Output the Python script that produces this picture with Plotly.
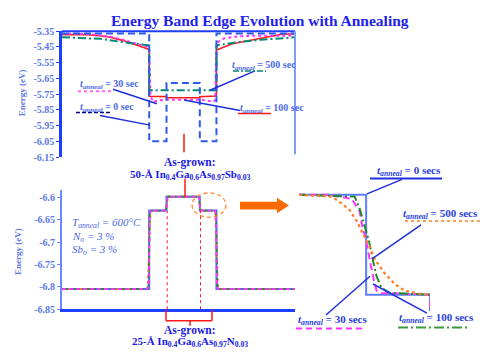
import plotly.graph_objects as go

W, H = 481, 352

# ---------------- data ----------------
# Position across the structure (Å); well edges at 65.5 / 78.5 / 103.5 / 116
TOP_TICKS = [-5.35, -5.45, -5.55, -5.65, -5.75, -5.85, -5.95, -6.05, -6.15]
BOT_TICKS = [-6.6, -6.65, -6.7, -6.75, -6.8, -6.85]

# Upper panel: band edge (eV) for each anneal time
TOP_X_0 = [0, 65.5, 65.5, 78.5, 78.5, 103.5, 103.5, 116, 116, 175]
TOP_E_0 = [-5.365, -5.365, -6.05, -6.05, -5.68, -5.68, -6.05, -6.05, -5.365, -5.365]

TOP_X_30 = [0, 20, 36, 46, 56, 64, 65.5, 66.5, 68.5, 72, 78.5, 103.5, 109, 113, 115, 116, 117, 122, 130, 140, 175]
TOP_E_30 = [-5.366, -5.368, -5.385, -5.405, -5.43, -5.45, -5.47, -5.76, -5.80, -5.79, -5.785, -5.785, -5.79,
            -5.80, -5.79, -5.45, -5.42, -5.395, -5.385, -5.38, -5.378]

TOP_X_100 = [0, 19, 28.5, 36, 46, 56, 64, 65.5, 65.5, 78.5, 78.5, 103.5, 103.5, 115.5, 116, 116, 128, 134, 149, 158, 166, 175]
TOP_E_100 = [-5.372, -5.373, -5.379, -5.389, -5.41, -5.44, -5.461, -5.471, -5.764, -5.766, -5.773, -5.773, -5.766,
             -5.762, -5.75, -5.47, -5.43, -5.42, -5.395, -5.379, -5.368, -5.368]

TOP_X_500 = [0, 29, 46, 64, 65.5, 65.5, 116, 116, 134, 149, 164, 175]
TOP_E_500 = [-5.389, -5.399, -5.42, -5.436, -5.44, -5.725, -5.725, -5.44, -5.418, -5.405, -5.395, -5.389]

# Lower panel, as-grown step profile
BOT_X_0 = [0, 65.5, 65.5, 78.5, 78.5, 103.5, 103.5, 116, 116, 175]
BOT_E_0 = [-6.805, -6.805, -6.629, -6.629, -6.598, -6.598, -6.629, -6.629, -6.805, -6.805]

# Close-up of the outer well edge (x near 116 Å)
EDGE_X_0 = [113.95, 116, 116, 117.95, 117.95]
EDGE_E_0 = [-6.629, -6.629, -6.805, -6.805, -6.834]
EDGE_X_30 = [113.95, 114.85, 115.56, 115.80, 115.89, 115.98, 116.05, 116.14, 116.23, 116.32, 116.47, 117.95, 117.95]
EDGE_E_30 = [-6.629, -6.629, -6.636, -6.658, -6.687, -6.704, -6.726, -6.755, -6.778, -6.798, -6.802, -6.805, -6.834]
EDGE_X_100 = [113.95, 115.65, 115.80, 115.95, 116.08, 116.23, 116.32, 116.47, 116.72, 117.95]
EDGE_E_100 = [-6.629, -6.632, -6.653, -6.682, -6.709, -6.750, -6.773, -6.793, -6.802, -6.805]
EDGE_X_500 = [113.95, 114.95, 115.25, 115.50, 115.71, 115.92, 116.11, 116.26, 116.56, 116.87, 117.18, 117.60, 117.95]
EDGE_E_500 = [-6.629, -6.632, -6.644, -6.656, -6.675, -6.699, -6.721, -6.742, -6.767, -6.786, -6.798, -6.803, -6.805]

# Inner (25 Å) step corners after annealing
INNER_X = [77.9, 78.4, 78.8, 79.4]
INNER_E = [-6.629, -6.622, -6.605, -6.598]

WELL_L, WELL_R = 65.5, 116.0


def annealed_profile(ex, ey):
    """Full lower-panel profile built from the edge close-up (mirrored on the left)."""
    n = len(ex) - 1 if ey[-1] < -6.81 else len(ex)
    ex, ey = ex[:n], ey[:n]
    left_x = [WELL_L + WELL_R - x for x in reversed(ex)]
    left_e = list(reversed(ey))
    inner_rx = [182.0 - x for x in reversed(INNER_X)]
    inner_re = list(reversed(INNER_E))
    xs = [0] + left_x + INNER_X + inner_rx + ex + [175]
    es = [-6.805] + left_e + INNER_E + inner_re + ey + [-6.805]
    return xs, es


# ---------------- figure ----------------
def px(x):
    return x / W


def py(y):
    return 1 - y / H


BLUE = "#2f5bea"
LBLUE = "#5a78e6"
TXT = "#4a6ae8"
SERIF = "Liberation Serif"

fig = go.Figure()

# upper panel
fig.add_trace(go.Scatter(x=TOP_X_100, y=TOP_E_100, mode="lines", line=dict(color="#ff1a1a", width=1.6),
                         xaxis="x", yaxis="y"))
fig.add_trace(go.Scatter(x=TOP_X_30, y=TOP_E_30, mode="lines", line=dict(color="#ff33ff", width=2, dash="dot"),
                         xaxis="x", yaxis="y"))
fig.add_trace(go.Scatter(x=TOP_X_500, y=TOP_E_500, mode="lines",
                         line=dict(color="#008878", width=2, dash="8px,3px,2px,3px"), xaxis="x", yaxis="y"))
fig.add_trace(go.Scatter(x=TOP_X_0, y=TOP_E_0, mode="lines", line=dict(color=BLUE, width=2, dash="7px,4px"),
                         xaxis="x", yaxis="y"))

# lower panel
fig.add_trace(go.Scatter(x=BOT_X_0, y=BOT_E_0, mode="lines", line=dict(color="#4a6cff", width=2),
                         xaxis="x2", yaxis="y2"))
for ex, ey, col, dash in [(EDGE_X_500, EDGE_E_500, "#ff7f27", "dot"),
                          (EDGE_X_100, EDGE_E_100, "#1f8a2a", "6px,2px,2px,2px"),
                          (EDGE_X_30, EDGE_E_30, "#ff33ff", "4px,3px")]:
    bx, be = annealed_profile(ex, ey)
    fig.add_trace(go.Scatter(x=bx, y=be, mode="lines", line=dict(color=col, width=1.8, dash=dash),
                             xaxis="x2", yaxis="y2"))

# edge close-up
fig.add_trace(go.Scatter(x=EDGE_X_0, y=EDGE_E_0, mode="lines", line=dict(color="#5c7dff", width=2),
                         xaxis="x3", yaxis="y3"))
fig.add_trace(go.Scatter(x=EDGE_X_30, y=EDGE_E_30, mode="lines", line=dict(color="#ff33ff", width=2, dash="7px,4px"),
                         xaxis="x3", yaxis="y3"))
fig.add_trace(go.Scatter(x=EDGE_X_100, y=EDGE_E_100, mode="lines",
                         line=dict(color="#1f8a2a", width=2, dash="9px,3px,2px,3px"), xaxis="x3", yaxis="y3"))
fig.add_trace(go.Scatter(x=EDGE_X_500, y=EDGE_E_500, mode="lines", line=dict(color="#ff7f27", width=2.2, dash="dot"),
                         xaxis="x3", yaxis="y3"))

tickfont = dict(family=SERIF, size=10, color=LBLUE, weight="bold")
fig.update_layout(
    width=W, height=H, margin=dict(l=0, r=0, t=0, b=0),
    paper_bgcolor="white", plot_bgcolor="white", showlegend=False,
    xaxis=dict(domain=[px(62), px(295)], range=[0, 175], visible=False),
    yaxis=dict(domain=[py(157), py(27)], range=[-6.15, -5.35], tickvals=TOP_TICKS,
               ticktext=[f"{v:.2f}" for v in TOP_TICKS], showline=True, linecolor="#1f3fff", linewidth=2.5,
               ticks="outside", ticklen=3, tickcolor="#1f3fff", showgrid=False, zeroline=False,
               tickfont=tickfont, anchor="x"),
    xaxis2=dict(domain=[px(62), px(295)], range=[0, 175], showline=True, linecolor="#1f3fff", linewidth=2.5,
                showticklabels=False, ticks="", showgrid=False, zeroline=False, anchor="y2"),
    yaxis2=dict(domain=[py(314), py(191)], range=[-6.85, -6.583], tickvals=BOT_TICKS,
                ticktext=[f"{v:g}" for v in BOT_TICKS], showline=True, linecolor="#6a88ff", linewidth=2,
                ticks="outside", ticklen=3, tickcolor="#6a88ff", showgrid=False, zeroline=False,
                tickfont=tickfont, anchor="x2"),
    xaxis3=dict(domain=[px(299), px(430)], range=[113.95, 117.95], visible=False),
    yaxis3=dict(domain=[py(322.4), py(190.7)], range=[-6.845, -6.62], visible=False, anchor="x3"),
)

shapes = []


def seg(x0, y0, x1, y1, color, width=1.5, dash="solid"):
    shapes.append(dict(type="line", xref="paper", yref="paper", x0=px(x0), y0=py(y0), x1=px(x1), y1=py(y1),
                       line=dict(color=color, width=width, dash=dash)))


# frame of the upper panel
seg(62, 27, 295, 27, "#1f3fff", 2)
seg(295, 27, 295, 154, "#7f9cff", 2)

# markers of the as-grown layers
seg(184, 133, 184, 152, "#ff1a1a", 1.5)
seg(185, 179, 185, 199, "#ff1a1a", 1.5)
shapes.append(dict(type="line", xref="x2", yref="y2", x0=79, x1=79, y0=-6.85, y1=-6.63,
                   line=dict(color="#ff1a1a", width=1, dash="dot")))
shapes.append(dict(type="line", xref="x2", yref="y2", x0=104, x1=104, y0=-6.85, y1=-6.63,
                   line=dict(color="#ff1a1a", width=1, dash="dot")))
seg(166, 315, 166, 326, "#ff1a1a", 1.5)
seg(212, 315, 212, 326, "#ff1a1a", 1.5)
seg(166, 326, 212, 326, "#ff1a1a", 1.5)
seg(190, 326, 190, 331, "#ff1a1a", 1.5)

# dashed ring around the step corner
shapes.append(dict(type="circle", xref="paper", yref="paper", x0=px(192), x1=px(226), y0=py(219), y1=py(194),
                   line=dict(color="#ff8a33", width=1.3, dash="4px,3px")))

# arrow pointing to the close-up
arrow_pts = [(240, 203), (277, 203), (277, 199), (289, 207), (277, 215), (277, 211), (240, 211)]
path = "M " + " L ".join(f"{px(a):.5f},{py(b):.5f}" for a, b in arrow_pts) + " Z"
shapes.append(dict(type="path", xref="paper", yref="paper", path=path, fillcolor="#ff6a00", line=dict(width=0)))

# leader lines + legend swatches, upper panel
seg(113, 87, 157, 102, "#1f2fdd", 1.5)
seg(78, 89, 113, 89, "#ff66ff", 2, "dot")
seg(100, 114, 150, 124, "#1f2fdd", 1.5)
seg(76, 111, 110, 111, "#000080", 1.5, "4px,2px")
seg(255, 68, 210, 88, "#1f2fdd", 1.5)
seg(233, 68, 266, 68, "#008878", 1.5, "6px,2px,2px,2px")
seg(184, 98, 240, 109, "#1f2fdd", 1.5)
seg(238, 112, 271, 112, "#ff1a1a", 1.5)

# leader lines + legend swatches, close-up
seg(402, 180, 367, 195, "#1f2fdd", 1.5)
seg(370, 179, 442, 179, "#1f2fdd", 2)
seg(421, 227, 372, 262, "#1f2fdd", 1.5)
seg(405, 223, 480, 223, "#ff7f27", 1.5, "dot")
seg(326, 320, 370, 280, "#1f2fdd", 1.5)
seg(296, 334, 366, 334, "#ff33ff", 2, "6px,4px")
seg(373, 288, 427, 318, "#1f2fdd", 1.5)
seg(398, 333, 468, 333, "#3a9a3a", 2, "10px,3px,2px,3px")

fig.update_layout(shapes=shapes)


def label(x, y, text, size=10, color=TXT, anchor="left", weight="normal", angle=0):
    fig.add_annotation(xref="paper", yref="paper", x=px(x), y=py(y), text=text, showarrow=False,
                       xanchor=anchor, yanchor="middle", textangle=angle,
                       font=dict(family=SERIF, size=size, color=color, weight=weight))


TA = "<i>t</i><sub><i>anneal</i></sub>"

label(260, 16, "Energy Band Edge Evolution with Annealing", 15.5, "#1f1fee", "center", "bold")
label(22, 91, "Energy (eV)", 9, LBLUE, "center", "bold", -90)
label(18, 255, "Energy (eV)", 9, LBLUE, "center", "bold", -90)

label(78, 82, TA + " = 30 sec", 10, TXT, "left", "bold")
label(78, 106, TA + " = 0 sec", 10, TXT, "left", "bold")
label(230, 62, TA + " = 500 sec", 10, TXT, "left", "bold")
label(238, 107, TA + " = 100 sec", 10, TXT, "left", "bold")

label(190, 163, "As-grown:", 11.5, "#1a1ae6", "center", "bold")
label(190, 175, "50-Å In<sub>0.4</sub>Ga<sub>0.6</sub>As<sub>0.97</sub>Sb<sub>0.03</sub>", 11, "#1a1ae6",
      "center", "bold")
label(190, 336, "As-grown:", 11.5, "#1a1ae6", "center", "bold")
label(190, 348, "25-Å In<sub>0.4</sub>Ga<sub>0.6</sub>As<sub>0.97</sub>N<sub>0.03</sub>", 11, "#1a1ae6",
      "center", "bold")

label(70, 225, "<i>T</i><sub><i>anneal</i></sub><i> = 600°C</i>", 11, TXT)
label(70, 239, "<i>N</i><sub><i>o</i></sub><i> = 3 %</i>", 11, TXT)
label(70, 253, "<i>Sb</i><sub><i>o</i></sub><i> = 3 %</i>", 11, TXT)

label(375, 171, TA + " = 0 secs", 11, "#2a3ee0", "left", "bold")
label(480, 216, TA + " = 500 secs", 11, "#2a3ee0", "right", "bold")
label(296, 325, TA + " = 30 secs", 11, "#2a3ee0", "left", "bold")
label(397, 323, TA + " = 100 secs", 11, "#2a3ee0", "left", "bold")

fig.write_html("out.html")
